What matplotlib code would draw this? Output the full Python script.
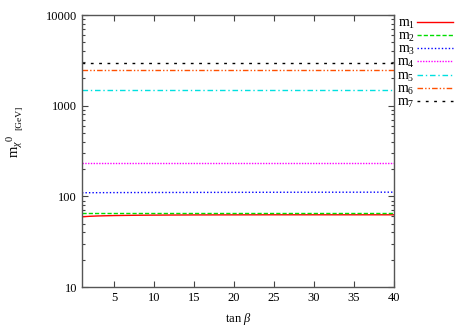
import matplotlib
matplotlib.use("Agg")
import matplotlib.pyplot as plt
from matplotlib.ticker import FixedLocator, LogLocator, NullFormatter

plt.rcParams['font.family'] = ['Liberation Serif', 'DejaVu Serif']
plt.rcParams['mathtext.fontset'] = 'custom'
plt.rcParams['mathtext.rm'] = 'Liberation Serif'
plt.rcParams['mathtext.it'] = 'Liberation Serif:italic'

tanb = [1, 2, 3, 5, 8, 10, 15, 20, 25, 30, 35, 40]
m1 = [59.5, 60.3, 60.8, 61.4, 61.9, 62.1, 62.4, 62.5, 62.6, 62.6, 62.6, 62.6]
m2 = [65.5, 65.5, 65.5, 65.5, 65.5, 65.5, 65.5, 65.5, 65.5, 65.5, 65.5, 65.5]
m3 = [109.5, 109.7, 109.8, 110.0, 110.2, 110.3, 110.5, 110.7, 110.9, 111.0, 111.1, 111.2]
m4 = [234, 234, 234, 234, 234, 234, 234, 234, 234, 234, 234, 234]
m5 = [1490, 1490, 1490, 1490, 1490, 1490, 1490, 1490, 1490, 1490, 1490, 1490]
m6 = [2470, 2470, 2470, 2470, 2470, 2470, 2470, 2470, 2470, 2470, 2470, 2470]
m7 = [2970, 2970, 2970, 2970, 2970, 2970, 2970, 2970, 2970, 2970, 2970, 2970]
labels = ['m$_1$', 'm$_2$', 'm$_3$', 'm$_4$', 'm$_5$', 'm$_6$', 'm$_7$']
xticks = [5, 10, 15, 20, 25, 30, 35, 40]
yticks = [10, 100, 1000, 10000]

series = [m1, m2, m3, m4, m5, m6, m7]
colors = ['#ff0000', '#00dd00', '#0000ff', '#ff00ff', '#00e0e0', '#ff5000', '#000000']
dashes = [None, (3, 1.5), (1, 1.5), (1, 1), (4, 2, 1, 2), (4, 1.5, 1, 1.5, 1, 1.5), (2, 4)]

fig = plt.figure(figsize=(4.67, 3.27), dpi=100)
ax = fig.add_axes([0.1756, 0.1223, 0.668, 0.8317])

for s, c, d, lab in zip(series, colors, dashes, labels):
    line, = ax.plot(tanb, s, color=c, lw=1.0, label=lab)
    if d is not None:
        line.set_dashes(d)

ax.set_yscale('log')
ax.set_xlim(1, 40)
ax.set_ylim(10, 10000)
ax.xaxis.set_major_locator(FixedLocator(xticks))
ax.yaxis.set_major_locator(FixedLocator(yticks))
ax.yaxis.set_minor_locator(LogLocator(base=10, subs=range(2, 10)))
ax.yaxis.set_minor_formatter(NullFormatter())
ax.set_yticklabels([str(v) for v in yticks])
ax.tick_params(which='both', direction='in', top=True, right=True, labelsize=9, width=0.8, colors='#444444', labelcolor='black')
ax.tick_params(which='major', length=4)
ax.tick_params(which='minor', length=2.5)
for sp in ax.spines.values():
    sp.set_color('#555555')
    sp.set_linewidth(1.0)

ax.set_xlabel(r'tan $\beta$', fontsize=9, labelpad=5)
fig.text(15 / 467, 1 - 158 / 327, r'm$_{\chi}$$^0$', rotation=90, ha='center', va='bottom', fontsize=10.5)
fig.text(19 / 467, 1 - 130 / 327, '[GeV]', rotation=90, ha='center', va='bottom', fontsize=6.8)

leg = ax.legend(loc='upper left', bbox_to_anchor=(1.01, 0.993), frameon=False, fontsize=10,
                handlelength=2.6, handletextpad=0.15, labelspacing=-0.07, markerfirst=False,
                borderaxespad=0.0, borderpad=0.0)

fig.savefig('out.png', dpi=100)
